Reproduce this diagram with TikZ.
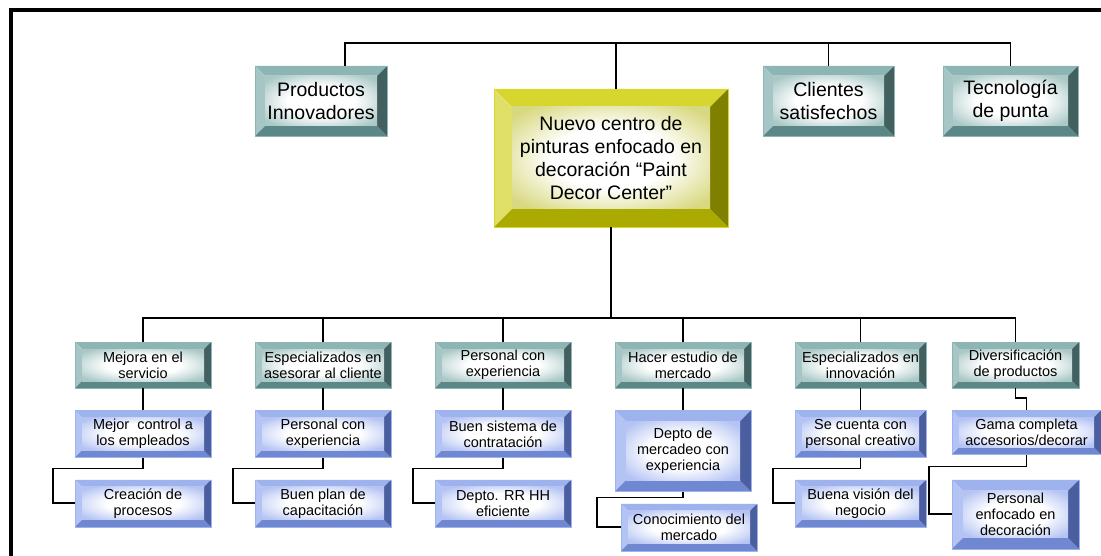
\documentclass[tikz,border=0pt]{standalone}
\usepackage{fontspec}
\setmainfont{Liberation Sans}
\usetikzlibrary{positioning}

\definecolor{tealtop}{HTML}{8DB5B3}
\definecolor{tealleft}{HTML}{A5C6C4}
\definecolor{tealbot}{HTML}{5B8886}
\definecolor{tealright}{HTML}{41605F}
\definecolor{tealface}{HTML}{A9C8C6}
\definecolor{bluetop}{HTML}{9EB2EE}
\definecolor{blueleft}{HTML}{B3C3F3}
\definecolor{bluebot}{HTML}{7088D2}
\definecolor{blueright}{HTML}{4B5FA0}
\definecolor{blueface}{HTML}{B4C3F3}
\definecolor{goldtop}{HTML}{D6D62E}
\definecolor{goldleft}{HTML}{E0E068}
\definecolor{goldbot}{HTML}{AAAA00}
\definecolor{goldright}{HTML}{7F7F00}
\definecolor{goldface}{HTML}{D8D880}
\colorlet{facecol}{white}

\pgfdeclareradialshading[facecol]{facefade}{\pgfpoint{0bp}{0bp}}{%
  color(0bp)=(white); color(15bp)=(white); color(32bp)=(facecol); color(50bp)=(facecol)}

% four bevel faces and a shaded middle, drawn inside the node path
\newcommand\bevelpaint[1]{%
  \path (path picture bounding box.south west) coordinate (bsw)
        (path picture bounding box.north east) coordinate (bne)
        (path picture bounding box.north west) coordinate (bnw)
        (path picture bounding box.south east) coordinate (bse);
  \fill[#1top] (bnw) -- (bne) -- ([xshift=-\bevelw,yshift=-\bevelw]bne) -- ([xshift=\bevelw,yshift=-\bevelw]bnw) -- cycle;
  \fill[#1left] (bnw) -- ([xshift=\bevelw,yshift=-\bevelw]bnw) -- ([xshift=\bevelw,yshift=\bevelw]bsw) -- (bsw) -- cycle;
  \fill[#1bot] (bsw) -- ([xshift=\bevelw,yshift=\bevelw]bsw) -- ([xshift=-\bevelw,yshift=\bevelw]bse) -- (bse) -- cycle;
  \fill[#1right] (bse) -- ([xshift=-\bevelw,yshift=\bevelw]bse) -- ([xshift=-\bevelw,yshift=-\bevelw]bne) -- (bne) -- cycle;
  \colorlet{facecol}{#1face}%
  \shade[shading=facefade] ([xshift=\bevelw,yshift=\bevelw]bsw) rectangle ([xshift=-\bevelw,yshift=-\bevelw]bne);
}

\tikzset{bevel/.store in=\bevelw, bevel=7pt}

\begin{document}
\begin{tikzpicture}[
  x=1pt, y=1pt,
  node distance=22pt,
  bevelbox/.style={path picture={\bevelpaint{#1}}, draw=#1top, line width=0.4pt, align=center, inner sep=0pt},
  big/.style={font=\fontsize{19.5}{23}\selectfont, bevel=10pt},
  small/.style={font=\fontsize{14.5}{16}\selectfont, minimum width=136pt, minimum height=47pt},
  tealbox/.style={bevelbox=teal},
  bluebox/.style={bevelbox=blue},
  goldbox/.style={bevelbox=gold},
  link/.style={line width=1.7pt}
]
\useasboundingbox (0,0) rectangle (1101,-556);
\draw[line width=4pt] (10.5,-556) -- (10.5,-10.5) -- (1101,-10.5);

% top row
\node[goldbox, big, bevel=18pt, minimum width=234pt, minimum height=138pt] (centre) at (611,-158)
  {Nuevo centro de\\pinturas enfocado en\\decoración “Paint\\Decor Center”};
\node[tealbox, big, minimum width=132pt, minimum height=70pt] (prod) at (321,-101) {Productos\\Innovadores};
\node[tealbox, big, minimum width=131pt, minimum height=70pt] (cli) at (828.5,-101) {Clientes\\satisfechos};
\node[tealbox, big, minimum width=135pt, minimum height=70pt] (tec) at (1010.5,-101) {Tecnología\\de punta};

% first level
\node[tealbox, small, minimum height=46pt] (mejora) at (143,-365) {Mejora en el\\servicio};
\node[tealbox, small, minimum height=46pt] (asesor) at (323,-365) {Especializados en\\asesorar al cliente};
\node[tealbox, small, minimum height=46pt] (personal) at (503,-365) {Personal con\\experiencia};
\node[tealbox, small, minimum height=46pt] (estudio) at (683,-365) {Hacer estudio de\\mercado};
\node[tealbox, small, minimum height=46pt, minimum width=131pt] (innov) at (860.5,-365) {Especializados en\\innovación};
\node[tealbox, small, minimum height=46pt, minimum width=127pt] (divers) at (1015.5,-365) {Diversificación\\de productos};

% second level
\node[bluebox, small, below=of mejora] (control) {Mejor~ control a\\los empleados};
\node[bluebox, small, below=of asesor] (expasesor) {Personal con\\experiencia};
\node[bluebox, small, below=of personal] (contrat) {Buen sistema de\\contratación};
\node[bluebox, small, bevel=11pt, minimum height=81pt, below=of estudio] (mercadeo) {Depto de\\mercadeo con\\experiencia};
\node[bluebox, small, minimum width=131pt, below=of innov] (creativo) {Se cuenta con\\personal creativo};
\node[bluebox, small, minimum width=149pt, minimum height=44pt, below=of divers.south west, anchor=north west] (gama) {Gama completa\\accesorios/decorar};

% third level
\node[bluebox, small, below=of control] (procesos) {Creación de\\procesos};
\node[bluebox, small, below=of expasesor] (capacit) {Buen plan de\\capacitación};
\node[bluebox, small, below=of contrat] (rrhh) {Depto. RR HH\\eficiente};
\node[bluebox, small, below=12pt of mercadeo, xshift=6pt] (conoc) {Conocimiento del\\mercado};
\node[bluebox, small, minimum width=131pt, below=of creativo] (vision) {Buena visión del\\negocio};
\node[bluebox, small, bevel=11pt, minimum width=127pt, minimum height=69pt, below=25pt of gama.south west, anchor=north west] (enfocado) {Personal\\enfocado en\\decoración};

% connectors
\coordinate (topbus) at (616,-43);
\coordinate (lowbus) at (610,-318);
\draw[link] ([xshift=24pt]prod.north) |- (topbus) -| (tec.north);
\draw[link] ([xshift=5pt]centre.north) -- (topbus);
\draw[link] (cli.north) -- (cli.north |- topbus);
\draw[link] (centre.south) -- (centre.south |- lowbus);
\draw[link] (mejora.north) |- (lowbus) -| (divers.north);
\foreach \n in {asesor,personal,estudio,innov}
  \draw[link] (\n.north) -- (\n.north |- lowbus);
\draw[link] (mejora) -- (control);
\draw[link] (asesor) -- (expasesor);
\draw[link] (personal) -- (contrat);
\draw[link] (estudio) -- (mercadeo);
\draw[link] (innov) -- (creativo);
\draw[link] (divers.south) -- ++(0,-10) -| (gama.north);
\draw[link] (control.south) -- ++(0,-11) -| ([xshift=-22pt]procesos.west) -- (procesos.west);
\draw[link] (expasesor.south) -- ++(0,-11) -| ([xshift=-22pt]capacit.west) -- (capacit.west);
\draw[link] (contrat.south) -- ++(0,-11) -| ([xshift=-22pt]rrhh.west) -- (rrhh.west);
\draw[link] (mercadeo.south) -- ++(0,-6) -| ([xshift=-24pt]conoc.west) -- (conoc.west);
\draw[link] (creativo.south) -- ++(0,-11) -| ([xshift=-22pt]vision.west) -- (vision.west);
\draw[link] (gama.south) -- ++(0,-12) -| ([xshift=-23pt]enfocado.west) -- (enfocado.west);
\end{tikzpicture}
\end{document}
